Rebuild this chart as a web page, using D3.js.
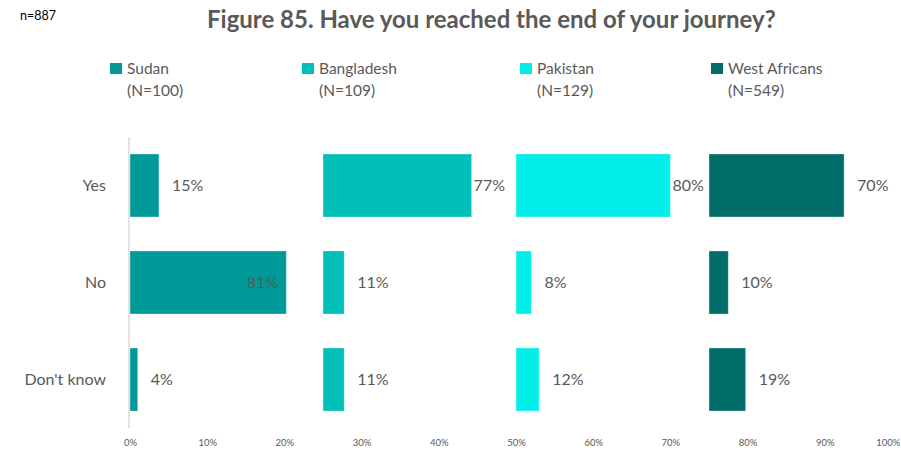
<!DOCTYPE html>
<html><head><meta charset="utf-8">
<script src="https://cdn.jsdelivr.net/npm/d3@7/dist/d3.min.js"></script>
<style>
html,body{margin:0;padding:0;background:#fff;}
svg{display:block;font-family:Lato,"Open Sans",sans-serif;}
</style></head>
<body><svg id="chart" width="901" height="453"></svg>
<script>
const title = "Figure 85. Have you reached the end of your journey?";
const note = "n=887";
const categories = ["Yes", "No", "Don't know"];
const seriesNames = ["Sudan", "Bangladesh", "Pakistan", "West Africans"];
const seriesN = ["(N=100)", "(N=109)", "(N=129)", "(N=549)"];
const sudan = [0.15, 0.81, 0.04];
const bangladesh = [0.77, 0.11, 0.11];
const pakistan = [0.80, 0.08, 0.12];
const westAfricans = [0.70, 0.10, 0.19];
const tickValues = [0, 0.1, 0.2, 0.3, 0.4, 0.5, 0.6, 0.7, 0.8, 0.9, 1.0];
const colors = ["#009999", "#00bfb9", "#00efe8", "#006d69"];

const seriesValues = [sudan, bangladesh, pakistan, westAfricans];
const textColor = "#595959";
const svg = d3.select("#chart");

const x = d3.scaleLinear().domain([0, 1]).range([130, 902]);
const y = d3.scaleBand().domain(categories).range([137, 428]).paddingInner(0.35).paddingOuter(0.175);
const panelWidth = 0.25;

// title
const t = svg.append("text").attr("x", 207).attr("y", 28)
  .attr("font-weight", "bold").attr("fill", textColor).attr("font-size", 21).text(title);
const tw = t.node().getComputedTextLength();
t.attr("font-size", 21 * 569 / tw);

svg.append("text").attr("x", 20).attr("y", 20).attr("font-size", 12.5).attr("fill", "#000").text(note);

// legend
const legendX = [110, 302, 520, 711];
seriesNames.forEach((name, i) => {
  const g = svg.append("g");
  g.append("rect").attr("x", legendX[i]).attr("y", 63).attr("width", 12).attr("height", 11).attr("fill", colors[i]);
  g.append("text").attr("x", legendX[i] + 17).attr("y", 74).attr("font-size", 15.5).attr("fill", textColor).text(name);
  g.append("text").attr("x", legendX[i] + 17).attr("y", 96).attr("font-size", 15.5).attr("fill", textColor).text(seriesN[i]);
});

// x axis
const xAxis = d3.axisBottom(x).tickValues(tickValues).tickFormat(d3.format(".0%")).tickSize(0).tickPadding(0);
const ax = svg.append("g").attr("transform", "translate(0,440)").call(xAxis);
ax.select(".domain").remove();
ax.selectAll("text").attr("font-size", 9.5).attr("fill", textColor).attr("font-family", "Lato, sans-serif").attr("dy", "0.6em");
// keep the last tick label inside the picture
ax.selectAll(".tick").filter(d => d === 1).select("text").attr("text-anchor", "end").attr("x", 900 - x(1));

// vertical axis line
svg.append("line").attr("x1", x(0) - 1).attr("x2", x(0) - 1).attr("y1", 137).attr("y2", 428)
  .attr("stroke", "#d9d9d9").attr("stroke-width", 1.5);

// category labels
const yAxis = d3.axisLeft(y).tickSize(0).tickPadding(0);
const ay = svg.append("g").attr("transform", "translate(106,0)").call(yAxis);
ay.select(".domain").remove();
ay.selectAll("text").attr("font-size", 16).attr("fill", textColor).attr("font-family", "Lato, sans-serif");

// bars
const insideLabels = [["Sudan", "No"]];
seriesValues.forEach((vals, si) => {
  const offset = si * panelWidth;
  const panelEnd = x(offset + panelWidth);
  const g = svg.append("g");
  categories.forEach((c, ci) => {
    const v = vals[ci];
    const x0 = x(offset), x1 = x(offset + v * panelWidth);
    g.append("rect").attr("x", x0).attr("y", y(c)).attr("width", x1 - x0).attr("height", y.bandwidth())
      .attr("fill", colors[si]).attr("stroke", "#ffffff").attr("stroke-opacity", 0.35).attr("stroke-width", 1);
    const lbl = g.append("text").attr("y", y(c) + y.bandwidth() / 2).attr("dy", "0.35em")
      .attr("font-size", 16).attr("fill", textColor).text(d3.format(".0%")(v));
    const w = lbl.node().getComputedTextLength();
    const inside = insideLabels.some(p => p[0] === seriesNames[si] && p[1] === c);
    if (inside) {
      lbl.attr("x", x1 - 8).attr("text-anchor", "end");
    } else if (x1 + 13 + w <= panelEnd) {
      lbl.attr("x", x1 + 13);
    } else {
      lbl.attr("x", x1 + 2);
    }
  });
});
</script></body></html>
